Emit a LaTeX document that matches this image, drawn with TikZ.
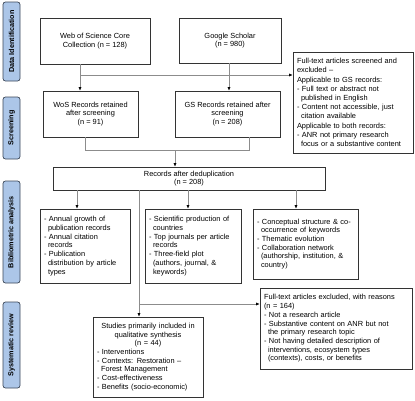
\documentclass[tikz,border=0pt]{standalone}
\usepackage{fontspec}
\setmainfont{Liberation Sans}
\usetikzlibrary{arrows.meta}

\definecolor{phasefill}{RGB}{172,198,232}
\definecolor{phaseline}{RGB}{60,72,88}
\definecolor{linkgray}{RGB}{140,140,140}

\tikzset{
    box/.style={draw=black!80, line width=0.6pt, inner sep=4pt, align=center, font=\fontsize{7.4}{8.7}\selectfont},
    lbox/.style={box, align=left},
    phase/.style={draw=phaseline, fill=phasefill, rounded corners=2.5pt, line width=0.7pt, rotate=90, minimum height=17pt, inner sep=0pt, font=\fontsize{7.2}{8}\selectfont\bfseries},
    link/.style={draw=linkgray, line width=0.6pt},
    arr/.style={link, -{Latex[length=3.5pt,width=3pt,black]}}
}

\begin{document}
\begin{tikzpicture}[x=1pt,y=-1pt]
    \useasboundingbox (0,0) rectangle (415,400);
    %phase labels on the left
    \foreach \y/\h/\t [count=\i] in {41.5/79/Data Identification, 128/62/Screening, 232/102/Bibliometric analysis, 345/86/Systematic review}
        \node[phase, minimum width=\h pt] (p\i) at (11.5,\y) {\t};

    %identification
    \node[box, minimum width=110pt, minimum height=46pt] (wos) at (95,41) {Web of Science Core\\Collection (n = 128)};
    \node[box, minimum width=102pt, minimum height=45pt] (gs) at (230,40.5) {Google Scholar\\(n = 980)};
    \node[lbox, text width=112pt, minimum height=101pt, font=\fontsize{7.4}{9.2}\selectfont] (excl1) at (353,102.5) {Full-text articles screened and\\excluded --\\Applicable to GS records:\\- Full text or abstract not\\\hspace*{4pt}published in English\\- Content not accessible, just\\\hspace*{4pt}citation available\\Applicable to both records:\\- ANR not primary research\\\hspace*{4pt}focus or a substantive content};

    %screening
    \node[box, minimum width=95pt, minimum height=46pt] (wosr) at (90.5,114) {WoS Records retained\\after screening\\(n = 91)};
    \node[box, minimum width=105pt, minimum height=46pt] (gsr) at (227.5,114) {GS Records retained after\\screening\\(n = 208)};
    \node[box, minimum width=272pt, minimum height=23pt, inner sep=1pt] (dedup) at (189,178.5) {Records after deduplication\\(n = 208)};

    %bibliometric analysis
    \node[lbox, text width=82pt, minimum height=74pt] (bib1) at (85,246) {- Annual growth of\\\hspace*{4pt}publication records\\- Annual citation\\\hspace*{4pt}records\\- Publication\\\hspace*{4pt}distribution by article\\\hspace*{4pt}types};
    \node[lbox, text width=88pt, minimum height=74pt] (bib2) at (193,246) {- Scientific production of\\\hspace*{4pt}countries\\- Top journals per article\\\hspace*{4pt}records\\- Three-field plot\\\hspace*{4pt}(authors, journal, \&\\\hspace*{4pt}keywords)};
    \node[lbox, text width=97pt, minimum height=70pt] (bib3) at (305.5,244) {- Conceptual structure \& co-\\\hspace*{4pt}occurrence of keywords\\- Thematic evolution\\- Collaboration network\\\hspace*{4pt}(authorship, institution, \&\\\hspace*{4pt}country)};

    %systematic review
    \node[lbox, text width=102pt, minimum height=80pt] (studies) at (148,357) {\centering Studies primarily included in\\qualitative synthesis\\(n = 44)\par\raggedright - Interventions\\- Contexts: Restoration --\\\hspace*{4pt}Forest Management\\- Cost-effectiveness\\- Benefits (socio-economic)};
    \node[lbox, text width=144pt, minimum height=81pt] (excl2) at (336,328.5) {Full-text articles excluded, with reasons\\(n = 164)\\- Not a research article\\- Substantive content on ANR but not\\\hspace*{4pt}the primary research topic\\- Not having detailed description of\\\hspace*{4pt}interventions, ecosystem types\\\hspace*{4pt}(contexts), costs, or benefits};

    %joints
    \coordinate (j1) at (80,75);
    \coordinate (j2) at (85,150);
    \coordinate (j3) at (249,150);
    \coordinate (j4) at (175,150);
    \coordinate (j5) at (139,304);
    \coordinate (a1) at ([xshift=-8pt]bib1.north);
    \coordinate (a2) at ([xshift=-5pt]bib2.north);
    \coordinate (a3) at ([xshift=-9.5pt]bib3.north);

    %connectors
    \draw[arr] (wos.south -| j1) -- (wosr.north -| j1);
    \draw[arr] (j1) -- (excl1.west |- j1);
    \draw[arr] ([xshift=-1pt]gs.south) -- ([xshift=-1pt]gs.south |- gsr.north);
    \draw[link] (wosr.south -| j2) -- (j2) -- (j3) -- (gsr.south -| j3);
    \draw[arr] (j4) -- (dedup.north -| j4);
    \foreach \a in {a1, a2, a3}
        \draw[arr] (dedup.south -| \a) -- (\a);
    \draw[arr] (dedup.south -| j5) -- (studies.north -| j5);
    \draw[arr] (j5) -- (excl2.west |- j5);
\end{tikzpicture}
\end{document}
